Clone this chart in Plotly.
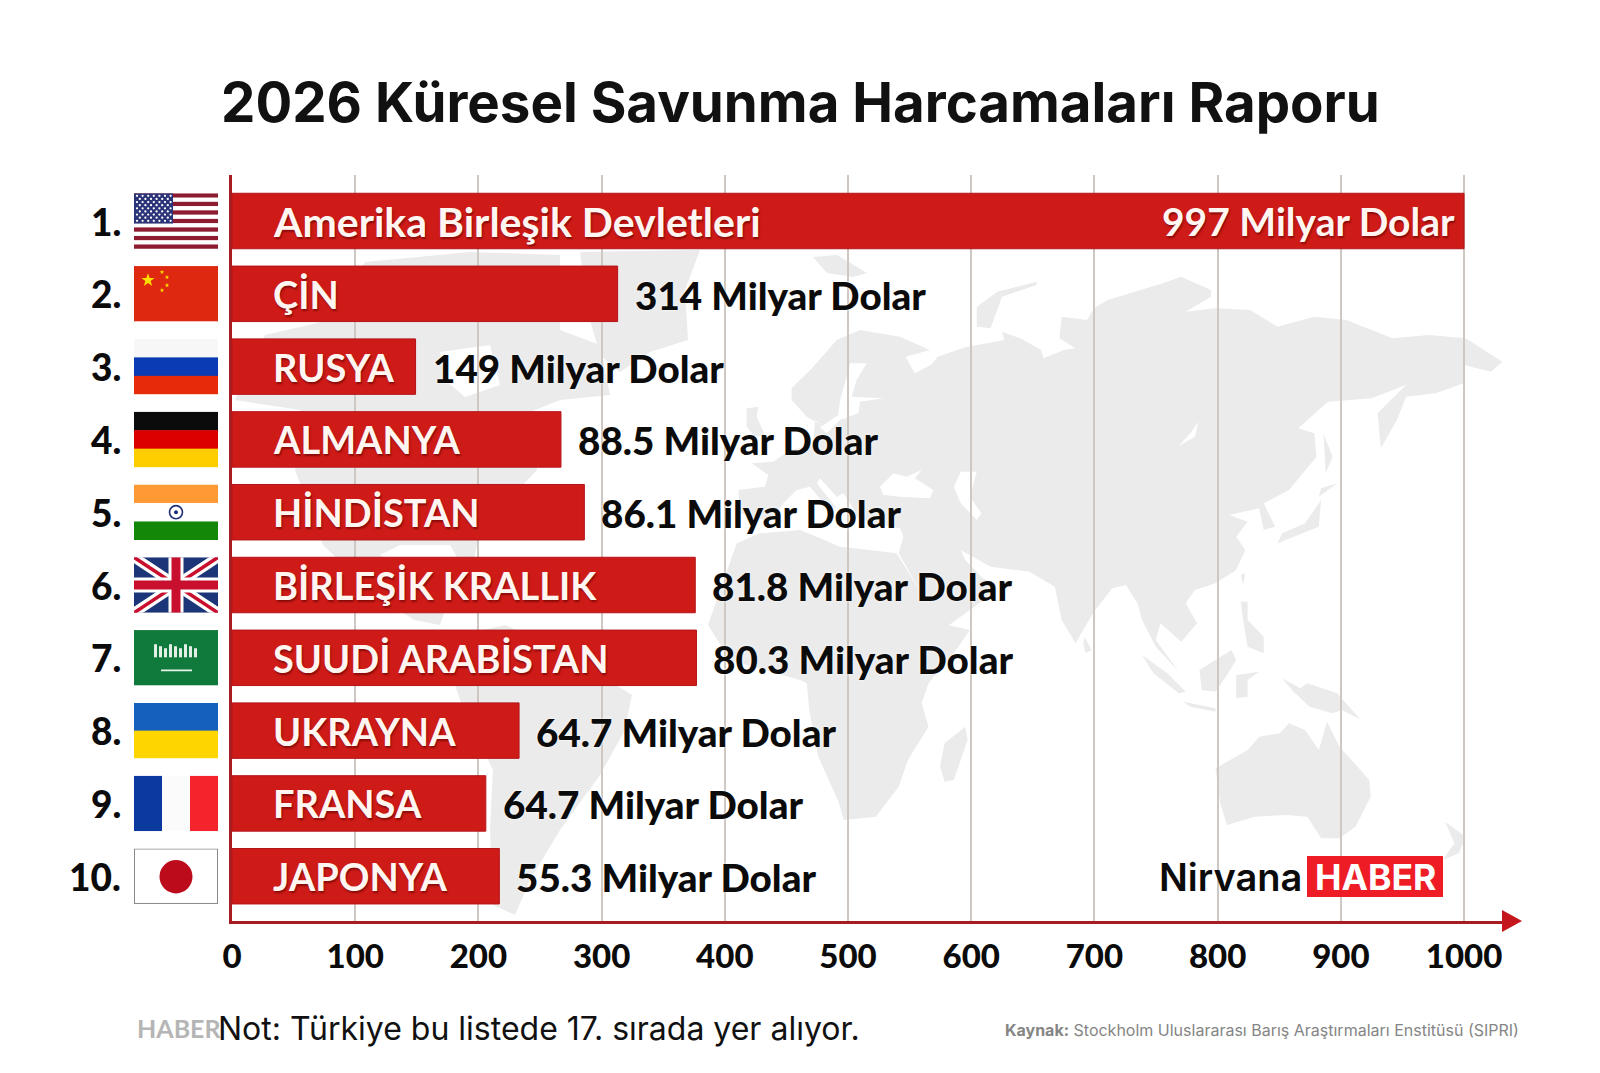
import base64
import math
import plotly.graph_objects as go

W = 1600
H = 1073

ranks = ["1.", "2.", "3.", "4.", "5.", "6.", "7.", "8.", "9.", "10."]
countries = ["Amerika Birleşik Devletleri", "ÇİN", "RUSYA", "ALMANYA", "HİNDİSTAN",
             "BİRLEŞİK KRALLIK", "SUUDİ ARABİSTAN", "UKRAYNA", "FRANSA", "JAPONYA"]
# bar lengths as drawn in the picture, they do not follow the printed values
bar_lengths = [1000, 313, 149, 267, 286, 376, 377, 233, 206, 217]
value_labels = ["997 Milyar Dolar", "314 Milyar Dolar", "149 Milyar Dolar", "88.5 Milyar Dolar",
                "86.1 Milyar Dolar", "81.8 Milyar Dolar", "80.3 Milyar Dolar", "64.7 Milyar Dolar",
                "64.7 Milyar Dolar", "55.3 Milyar Dolar"]
x_ticks = [0, 100, 200, 300, 400, 500, 600, 700, 800, 900, 1000]

label_font = "Lato"
heavy_font = "Lato Black, Lato"
title_font = "Inter"
red = "#cf1b17"
land = "#ebebeb"


def px(x):
    return x / W


def py(y):
    return 1 - y / H


def z5(pts):
    return [(800 + x / 2.178, 250 + y / 3) for x, y in pts]


def z6(pts):
    return [(800 + x / 2.178, 560 + y / 3) for x, y in pts]


def z10(pts):
    return [(640 + x / 3, 320 + y / 3) for x, y in pts]


eurasia = z10([(390, 605), (300, 580), (295, 510), (375, 500), (385, 465), (335, 430), (400, 425),
               (450, 390), (520, 375), (525, 300), (545, 315), (500, 290), (455, 240), (455, 205),
               (520, 140), (590, 60), (660, 30), (780, 50), (870, 90)]) \
    + z5([(230, 320), (250, 370), (285, 345), (300, 320), (360, 292), (445, 270), (440, 245), (480, 265),
          (525, 300), (530, 325), (575, 300), (600, 295), (565, 265), (570, 200), (625, 210), (640, 175),
          (670, 150), (790, 100), (830, 80), (895, 120), (895, 140), (840, 185), (905, 175), (980, 180),
          (1040, 230), (1120, 200), (1190, 210), (1290, 265), (1370, 255), (1450, 265), (1530, 335),
          (1505, 365), (1445, 345), (1445, 400), (1385, 430), (1320, 440), (1300, 510), (1265, 595),
          (1258, 490), (1320, 405), (1245, 445), (1150, 455), (1085, 535), (1120, 550), (1125, 620),
          (1065, 720), (1010, 760), (1035, 830), (1010, 840), (1000, 775), (935, 795), (975, 815),
          (950, 860), (970, 900), (950, 960), (905, 1000), (860, 1020), (840, 1060), (865, 1120)]) \
    + z6([(830, 245), (785, 190), (775, 240), (825, 335), (775, 260), (745, 180), (735, 130), (710, 75),
          (680, 85), (640, 155), (600, 250), (570, 180), (555, 80)]) \
    + z5([(500, 965), (415, 950), (350, 900), (360, 930), (395, 980), (415, 1000), (410, 1040), (310, 1140),
          (265, 1030), (215, 910)]) \
    + z10([(790, 650), (780, 625), (700, 610), (650, 590), (640, 565), (610, 520), (590, 530), (540, 475),
           (530, 490), (590, 565), (560, 560), (510, 500), (470, 510), (430, 550)])
africa = z10([(290, 670), (360, 640), (480, 630), (530, 650), (600, 680), (690, 690), (770, 700)]) \
    + z6([(305, 190), (370, 210), (345, 260), (280, 370), (265, 430), (280, 500), (235, 600), (215, 680),
          (165, 770), (95, 780), (85, 730), (40, 590), (20, 450), (15, 370)]) \
    + [(800, 680), (730, 660), (708, 625)]
north_america = [(235, 400), (300, 410), (295, 470), (323, 545), (370, 590), (414, 620), (440, 625),
                 (445, 610), (400, 575), (380, 555), (400, 545), (450, 545), (470, 580), (480, 530),
                 (537, 470), (530, 412), (560, 400), (610, 395), (600, 345), (560, 330), (560, 255),
                 (470, 252), (365, 262), (330, 320), (265, 335)]
south_america = [(440, 640), (505, 625), (560, 650), (632, 695), (625, 730), (600, 775), (560, 830),
                 (530, 880), (515, 915), (493, 905), (490, 830), (493, 770), (460, 700)]
greenland = [(580, 252), (700, 250), (685, 290), (688, 340), (650, 352), (620, 372), (600, 355), (590, 320)]
svalbard = [(813, 257), (837, 255), (867, 273), (853, 277), (827, 273)]
britain = z10([(320, 265), (355, 260), (350, 290), (375, 345), (345, 350), (320, 320)])
australia = z6([(905, 625), (975, 570), (1000, 530), (1045, 520), (1065, 490), (1100, 510), (1130, 570),
                (1148, 485), (1175, 560), (1240, 660), (1243, 710), (1210, 800), (1175, 835), (1135, 835),
                (1105, 770), (1060, 765), (990, 770), (930, 795), (915, 730)])
new_guinea = z6([(1050, 355), (1090, 385), (1105, 370), (1170, 400), (1220, 478), (1180, 450), (1160, 460),
                 (1110, 440), (1075, 395)])
borneo = z6([(870, 330), (940, 270), (950, 300), (930, 345), (905, 395), (875, 390)])
sumatra = z6([(745, 285), (800, 340), (840, 395), (825, 400), (770, 340)])
java = z6([(835, 425), (905, 445), (905, 455), (850, 440)])
philippines = z6([(960, 125), (975, 125), (975, 180), (1010, 230), (1010, 280), (975, 260), (965, 180)])
sulawesi = z6([(950, 345), (1000, 335), (975, 360), (975, 410), (950, 415)])
madagascar = z6([(360, 500), (365, 540), (335, 660), (315, 665), (305, 620), (315, 550)])
sri_lanka = z6([(620, 230), (635, 270), (622, 280), (617, 250)])
new_zealand = z6([(1405, 785), (1450, 830), (1435, 880), (1400, 900), (1425, 850)])
hokkaido = z5([(1135, 715), (1170, 700), (1130, 740)])
honshu = z5([(1135, 750), (1130, 830), (1040, 880), (1050, 850), (1100, 820)])
sakhalin = z5([(1140, 550), (1160, 620), (1145, 670)])
taiwan = z5([(960, 975), (970, 970), (965, 1005)])
novaya_zemlya = z5([(385, 170), (430, 125), (515, 95), (515, 105), (440, 140), (415, 235), (385, 230)])
land_shapes = [eurasia, africa, north_america, south_america, greenland, svalbard, britain, australia,
               new_guinea, borneo, sumatra, java, philippines, sulawesi, madagascar, sri_lanka, new_zealand,
               hokkaido, honshu, sakhalin, taiwan, novaya_zemlya]

baltic = z10([(630, 130), (680, 130), (650, 180), (635, 230), (730, 235), (660, 245), (655, 280),
              (600, 300), (560, 340), (540, 322), (595, 285), (600, 240), (620, 170)])
black_sea = z10([(720, 500), (760, 460), (800, 470), (845, 450), (825, 475), (880, 510), (870, 535),
                 (780, 530), (730, 525)])
caspian = z5([(350, 665), (385, 665), (370, 740), (395, 790), (385, 810), (350, 760), (335, 710)])
baikal = z5([(868, 515), (860, 560), (825, 588), (850, 550)])
hudson = [(440, 352), (490, 345), (500, 385), (465, 397), (445, 380)]
water_shapes = [baltic, black_sea, caspian, baikal, hudson]


def poly_path(pts):
    return "M " + " L ".join(f"{px(x):.5f},{py(y):.5f}" for x, y in pts) + " Z"


shapes = []
for pts in land_shapes:
    shapes.append(dict(type="path", path=poly_path(pts), xref="paper", yref="paper", layer="below",
                       fillcolor=land, line=dict(width=0)))
for pts in water_shapes:
    shapes.append(dict(type="path", path=poly_path(pts), xref="paper", yref="paper", layer="below",
                       fillcolor="white", line=dict(width=0)))
# axis arrow head
shapes.append(dict(type="path", path=poly_path([(1502, 910), (1522, 921), (1502, 932)]), xref="paper", yref="paper",
                   layer="above", fillcolor="#c4161c", line=dict(width=0)))
# logo box
shapes.append(dict(type="rect", x0=px(1307), x1=px(1443), y0=py(897), y1=py(856), xref="paper", yref="paper",
                   layer="above", fillcolor="#ee1c25", line=dict(width=0)))


def star(cx, cy, r):
    pts = []
    for k in range(10):
        a = -math.pi / 2 + k * math.pi / 5
        rr = r if k % 2 == 0 else r * 0.4
        pts.append(f"{cx + rr * math.cos(a):.2f},{cy + rr * math.sin(a):.2f}")
    return " ".join(pts)


def bands(colors, vertical=False):
    s = ""
    n = len(colors)
    for k, c in enumerate(colors):
        if vertical:
            s += f'<rect x="{k * 84 / n}" y="0" width="{84 / n + .5}" height="55" fill="{c}"/>'
        else:
            s += f'<rect x="0" y="{k * 55 / n}" width="84" height="{55 / n + .5}" fill="{c}"/>'
    return s


usa = bands(["#8e1c30", "#ffffff"] * 6 + ["#8e1c30"])
usa += '<rect width="39" height="30" fill="#2b3478"/>'
for row in range(9):
    for col in range(7 if row % 2 == 0 else 6):
        usa += f'<circle cx="{3 + col * 5.6 + (0 if row % 2 == 0 else 2.8):.1f}" cy="{2.5 + row * 3.1:.1f}" r="1.15" fill="white"/>'
china = '<rect width="84" height="55" fill="#de2910"/>'
china += f'<polygon points="{star(14, 14, 7)}" fill="#ffde00"/>'
for cx, cy in [(28, 6), (33, 11), (33, 19), (28, 24)]:
    china += f'<polygon points="{star(cx, cy, 2.4)}" fill="#ffde00"/>'
russia = bands(["#f7f7f7", "#0a3bb5", "#e62a0a"])
germany = bands(["#0b0b0b", "#dd0000", "#ffce00"])
india = bands(["#ff9933", "#ffffff", "#138808"])
india += '<circle cx="42" cy="27.5" r="6.5" fill="none" stroke="#1f2f7a" stroke-width="1.6"/><circle cx="42" cy="27.5" r="2" fill="#1f2f7a"/>'
uk = '<rect width="84" height="55" fill="#1c3578"/>'
uk += '<path d="M0,0 L84,55 M84,0 L0,55" stroke="white" stroke-width="10"/>'
uk += '<path d="M0,0 L84,55 M84,0 L0,55" stroke="#c8102e" stroke-width="3.5"/>'
uk += '<path d="M42,0 V55 M0,27.5 H84" stroke="white" stroke-width="15"/>'
uk += '<path d="M42,0 V55 M0,27.5 H84" stroke="#c8102e" stroke-width="9"/>'
saudi = '<rect width="84" height="55" fill="#0f7a3c"/>'
for k in range(9):
    saudi += f'<rect x="{20 + k * 5}" y="{14 + (k % 3) * 2}" width="3" height="{13 - (k % 3) * 2}" fill="#e2efe6"/>'
saudi += '<path d="M27,40 H58" stroke="#e6f2ea" stroke-width="1.6"/>'
ukraine = bands(["#1560bd", "#ffd500"])
france = bands(["#0a3a9e", "#fbfbfb", "#f5232c"], vertical=True)
japan = '<rect x="0.5" y="0.5" width="83" height="54" fill="white" stroke="#8a8a8a" stroke-width="1"/>'
japan += '<circle cx="42" cy="28" r="16.5" fill="#bc0c1c"/>'
flags = [usa, china, russia, germany, india, uk, saudi, ukraine, france, japan]

bar_frac = 0.762

images = []
for name, svg in zip(countries, flags):
    doc = f'<svg xmlns="http://www.w3.org/2000/svg" viewBox="0 0 84 55" width="168" height="110" preserveAspectRatio="none">{svg}</svg>'
    src = "data:image/svg+xml;base64," + base64.b64encode(doc.encode()).decode()
    images.append(dict(source=src, xref="paper", yref="y", x=px(134), y=countries.index(name), sizex=px(84),
                       sizey=bar_frac, xanchor="left", yanchor="middle", sizing="stretch", layer="above"))

fig = go.Figure()
fig.add_trace(go.Bar(x=bar_lengths, y=countries, orientation="h", width=bar_frac,
                     marker=dict(color=red, line=dict(color="#b3141a", width=1)), hoverinfo="skip"))

white_shadow = "1px 2px 2px rgba(90,0,0,0.6)"
annotations = []
for i, name in enumerate(countries):
    name_size = 41 if i == 0 else 38
    annotations.append(dict(x=0, y=name, xref="x", yref="y", xanchor="left", xshift=39, text=name, showarrow=False,
                            font=dict(family=label_font, size=name_size, color="#fff6f2", weight=700,
                                      shadow=white_shadow)))
    annotations.append(dict(x=px(123), y=name, xref="paper", yref="y", xanchor="right", text=ranks[i], showarrow=False,
                            font=dict(family=heavy_font, size=37, color="#0b0b0b")))
    if i == 0:
        annotations.append(dict(x=bar_lengths[i], y=name, xref="x", yref="y", xanchor="right", xshift=-7,
                                text=value_labels[i], showarrow=False,
                                font=dict(family=label_font, size=39, color="#fff6f2", weight=700,
                                          shadow=white_shadow)))
    else:
        annotations.append(dict(x=bar_lengths[i], y=name, xref="x", yref="y", xanchor="left", xshift=15, yshift=-1,
                                text=value_labels[i], showarrow=False,
                                font=dict(family=heavy_font, size=38.6, color="#0b0b0b", shadow="0 0 3px white")))


def note(x, y, text, size, color, family=title_font, weight=400, anchor="left"):
    annotations.append(dict(x=px(x), y=py(y), xref="paper", yref="paper", xanchor=anchor, yanchor="middle",
                            text=text, showarrow=False,
                            font=dict(family=family, size=size, color=color, weight=weight)))


note(800, 102, "2026 Küresel Savunma Harcamaları Raporu", 54.6, "#111111", weight=700, anchor="center")
note(135, 1028, "HABER", 25, "#b5b5b5", family=label_font, weight=700)
note(216, 1028, "Not: Türkiye bu listede 17. sırada yer alıyor.", 32, "#111111", weight=400)
note(1521, 1030, "<b>Kaynak:</b> Stockholm Uluslararası Barış Araştırmaları Enstitüsü (SIPRI)", 16, "#858585",
     anchor="right")
note(1304, 877, "Nirvana", 38, "#0b0b0b", weight=600, anchor="right")
note(1375, 877, "HABER", 35.5, "white", weight=700, anchor="center")

fig.update_layout(
    width=W, height=H,
    margin=dict(l=0, r=0, t=0, b=0, autoexpand=False),
    paper_bgcolor="white", plot_bgcolor="rgba(0,0,0,0)",
    showlegend=False,
    shapes=shapes, images=images, annotations=annotations,
    xaxis=dict(domain=[px(232), px(1510)], range=[0, 1037.3], tickmode="array", tickvals=x_ticks,
               ticktext=[str(t) for t in x_ticks], showgrid=True, gridcolor="#cfc7c1", gridwidth=1.5, zeroline=False,
               showline=True, linecolor="#a81c20", linewidth=3, ticks="", ticklabelstandoff=4,
               tickfont=dict(family=heavy_font, size=33, color="#0b0b0b")),
    yaxis=dict(domain=[py(921), py(175)], type="category", categoryorder="array", categoryarray=countries,
               range=[9.615, -0.632], autorange=False, showticklabels=False, showgrid=False, zeroline=False,
               showline=True, linecolor="#a81c20", linewidth=3, ticks=""),
)

fig.write_html("out.html", config=dict(displayModeBar=False), post_script="document.body.style.margin='0';")
